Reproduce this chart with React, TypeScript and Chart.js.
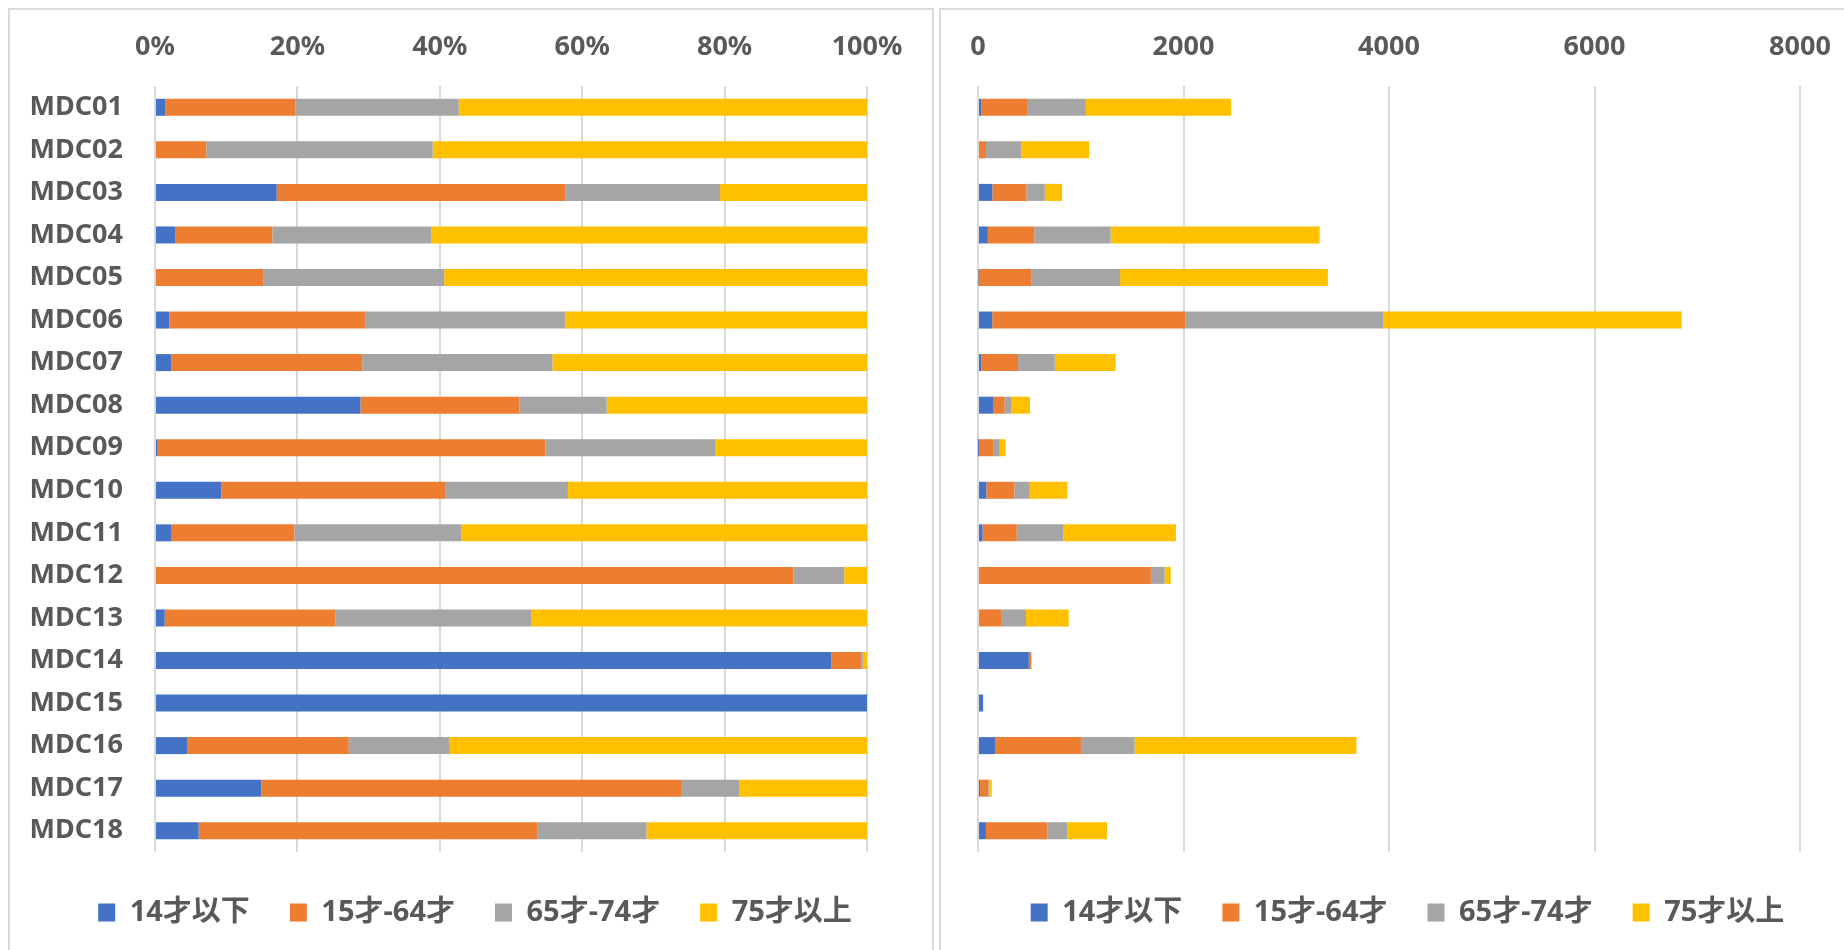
import React, { useEffect, useRef } from "react";
import { Chart, registerables } from "chart.js";

Chart.register(...registerables);

const categories = [
  "MDC01", "MDC02", "MDC03", "MDC04", "MDC05", "MDC06", "MDC07", "MDC08", "MDC09",
  "MDC10", "MDC11", "MDC12", "MDC13", "MDC14", "MDC15", "MDC16", "MDC17", "MDC18",
];
const seriesLabels = ["14才以下", "15才-64才", "65才-74才", "75才以上"];
const under14 = [35, 0, 140, 96, 5, 138, 31, 146, 1, 81, 45, 0, 12, 495, 50, 166, 20, 77];
const age15to64 = [450, 78, 332, 452, 512, 1883, 359, 113, 146, 273, 332, 1682, 212, 22, 0, 836, 79, 597];
const age65to74 = [565, 344, 178, 742, 866, 1925, 358, 62, 64, 150, 451, 134, 243, 1, 0, 522, 11, 193];
const age75plus = [1412, 660, 169, 2035, 2022, 2903, 592, 185, 57, 365, 1098, 60, 416, 3, 0, 2159, 24, 389];
const seriesColors = ["#4472C4", "#ED7D31", "#A5A5A5", "#FFC000"];
const pctTicks = [0, 20, 40, 60, 80, 100];
const countTicks = [0, 2000, 4000, 6000, 8000];

const FONT = "'Noto Sans', 'Noto Sans CJK JP', sans-serif";
const TEXT = "#595959";
const GRID = "#d9d9d9";

const series = [under14, age15to64, age65to74, age75plus];
const totals = categories.map((_, i) => series.reduce((s, arr) => s + arr[i], 0));
const pctSeries = series.map((arr) => arr.map((v, i) => (totals[i] ? (v / totals[i]) * 100 : 0)));

function makeDatasets(data: number[][]) {
  return data.map((d, k) => ({
    label: seriesLabels[k],
    data: d,
    backgroundColor: seriesColors[k],
    borderWidth: 0,
    barPercentage: 0.4,
    categoryPercentage: 1,
  }));
}

const tickFont = { family: FONT, size: 27, weight: "bold" as const };
const xTickFont = { family: FONT, size: 27, weight: "bold" as const, lineHeight: 2.48 };
const legendOpts = {
  position: "bottom" as const,
  title: { display: true, text: " ", padding: 0, font: { size: 5 } },
  labels: {
    boxWidth: 17,
    boxHeight: 18,
    padding: 40,
    color: TEXT,
    font: { family: FONT, size: 29, weight: "bold" as const },
  },
};

function hiddenAxis(width: number, position: string, extra: any = {}) {
  return {
    position,
    ...extra,
    ticks: { display: false },
    grid: { display: false, drawTicks: false },
    border: { display: false },
    afterFit: (s: any) => {
      s.width = width;
    },
  };
}

function leftConfig(): any {
  return {
    type: "bar",
    data: { labels: categories, datasets: makeDatasets(pctSeries) },
    options: {
      indexAxis: "y",
      responsive: false,
      animation: false,
      layout: { padding: { left: 10, right: 2, top: 0, bottom: 13 } },
      plugins: { legend: legendOpts, tooltip: { enabled: false } },
      scales: {
        x: {
          position: "top",
          stacked: true,
          min: 0,
          max: 100,
          afterBuildTicks: (s: any) => {
            s.ticks = pctTicks.map((v) => ({ value: v }));
          },
          ticks: { callback: (v: any) => v + "%", color: TEXT, font: xTickFont, padding: 5, maxRotation: 0 },
          grid: { color: GRID, lineWidth: 2, drawTicks: false },
          border: { display: false },
          afterFit: (s: any) => {
            s.height = 76;
          },
        },
        y: {
          stacked: true,
          ticks: { color: TEXT, font: tickFont, padding: 32, autoSkip: false },
          grid: { display: false, drawTicks: false },
          border: { display: false },
          afterFit: (s: any) => {
            s.width = 135;
          },
        },
        yPad: hiddenAxis(63, "right", { type: "linear", axis: "y" }),
      },
    },
  };
}

function rightConfig(): any {
  return {
    type: "bar",
    data: { labels: categories, datasets: makeDatasets(series) },
    options: {
      indexAxis: "y",
      responsive: false,
      animation: false,
      layout: { padding: { left: 37, right: 7, top: 0, bottom: 13 } },
      plugins: { legend: legendOpts, tooltip: { enabled: false } },
      scales: {
        x: {
          position: "top",
          stacked: true,
          min: 0,
          max: 8000,
          afterBuildTicks: (s: any) => {
            s.ticks = countTicks.map((v) => ({ value: v }));
          },
          ticks: { callback: (v: any) => String(v), color: TEXT, font: xTickFont, padding: 5, maxRotation: 0 },
          grid: { color: GRID, lineWidth: 2, drawTicks: false },
          border: { display: false },
          afterFit: (s: any) => {
            s.height = 76;
          },
        },
        y: { stacked: true, ...hiddenAxis(37, "right") },
      },
    },
  };
}

export default function App() {
  const leftRef = useRef<HTMLCanvasElement>(null);
  const rightRef = useRef<HTMLCanvasElement>(null);

  useEffect(() => {
    const c1 = new Chart(leftRef.current as HTMLCanvasElement, leftConfig());
    const c2 = new Chart(rightRef.current as HTMLCanvasElement, rightConfig());
    return () => {
      c1.destroy();
      c2.destroy();
    };
  }, []);

  return (
    <div
      style={{
        position: "absolute",
        left: 0,
        top: 0,
        width: 1844,
        height: 950,
        overflow: "hidden",
        background: "#ffffff",
      }}
    >
      <div
        style={{
          position: "absolute",
          left: 8,
          top: 8,
          width: 922,
          height: 1000,
          border: "2px solid #d9d9d9",
        }}
      />
      <div
        style={{
          position: "absolute",
          left: 939,
          top: 8,
          width: 1000,
          height: 1000,
          border: "2px solid #d9d9d9",
        }}
      />
      <canvas
        ref={leftRef}
        width={922}
        height={940}
        style={{ position: "absolute", left: 10, top: 10, width: 922, height: 940 }}
      />
      <canvas
        ref={rightRef}
        width={903}
        height={940}
        style={{ position: "absolute", left: 941, top: 10, width: 903, height: 940 }}
      />
    </div>
  );
}
